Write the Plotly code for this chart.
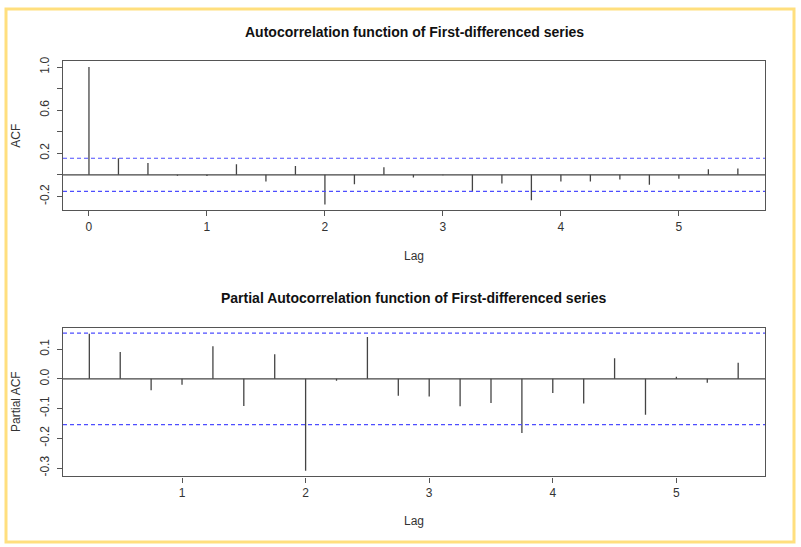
import plotly.graph_objects as go

# ---- data ----
acf_lags = [0, 0.25, 0.5, 0.75, 1.0, 1.25, 1.5, 1.75, 2.0, 2.25, 2.5, 2.75, 3.0,
            3.25, 3.5, 3.75, 4.0, 4.25, 4.5, 4.75, 5.0, 5.25, 5.5]
acf_vals = [1.0, 0.153, 0.11, -0.008, -0.01, 0.098, -0.061, 0.083, -0.276, -0.086, 0.07,
            -0.025, -0.003, -0.16, -0.08, -0.236, -0.061, -0.061, -0.043, -0.092, -0.037,
            0.052, 0.058]
pacf_lags = [0.25, 0.5, 0.75, 1.0, 1.25, 1.5, 1.75, 2.0, 2.25, 2.5, 2.75, 3.0,
             3.25, 3.5, 3.75, 4.0, 4.25, 4.5, 4.75, 5.0, 5.25, 5.5]
pacf_vals = [0.152, 0.09, -0.038, -0.02, 0.11, -0.091, 0.083, -0.309, -0.006, 0.141,
             -0.057, -0.059, -0.092, -0.081, -0.182, -0.048, -0.083, 0.069, -0.121,
             0.007, -0.013, 0.054]
conf_bound = 0.154
acf_yticks = [-0.2, 0.0, 0.2, 0.4, 0.6, 0.8, 1.0]
acf_yticklabels = ["-0.2", "", "0.2", "", "0.6", "", "1.0"]
pacf_yticks = [-0.3, -0.2, -0.1, 0.0, 0.1]
pacf_yticklabels = ["-0.3", "-0.2", "-0.1", "0.0", "0.1"]
acf_xticks = [0, 1, 2, 3, 4, 5]
pacf_xticks = [1, 2, 3, 4, 5]
titles = ["Autocorrelation function of First-differenced series",
          "Partial Autocorrelation function of First-differenced series"]

W, H = 801, 547
FONT = "Liberation Sans, Arial, sans-serif"
BAR = "#444444"
FRAME = "#555555"
BLUE = "#4D4DFF"


def stems(lags, vals):
    xs, ys = [], []
    for l, v in zip(lags, vals):
        xs += [l, l, None]
        ys += [0, v, None]
    return xs, ys


fig = go.Figure()

panels = [
    dict(lags=acf_lags, vals=acf_vals, xr=[-0.22, 5.73], yr=[-0.327, 1.052],
         yt=acf_yticks, ytl=acf_yticklabels, xt=acf_xticks, ylab="ACF",
         ydom=[1 - 207 / H, 1 - 57 / H], title_y=27, lag_y=253),
    dict(lags=pacf_lags, vals=pacf_vals, xr=[0.037, 5.717], yr=[-0.328, 0.172],
         yt=pacf_yticks, ytl=pacf_yticklabels, xt=pacf_xticks, ylab="Partial ACF",
         ydom=[1 - 475.7 / H, 1 - 325.7 / H], title_y=296, lag_y=521),
]

xdom = [63 / W, 765 / W]
annotations = []
shapes = []
for i, p in enumerate(panels):
    sfx = "" if i == 0 else str(i + 1)
    xa, ya = "x" + sfx, "y" + sfx
    xs, ys = stems(p["lags"], p["vals"])
    fig.add_trace(go.Scatter(x=xs, y=ys, mode="lines", xaxis=xa, yaxis=ya,
                             line=dict(color=BAR, width=1.3), showlegend=False,
                             hoverinfo="skip"))
    # zero line
    fig.add_trace(go.Scatter(x=p["xr"], y=[0, 0], mode="lines", xaxis=xa, yaxis=ya,
                             line=dict(color=BAR, width=1.3), showlegend=False,
                             hoverinfo="skip"))
    # confidence bounds
    for b in (conf_bound, -conf_bound):
        fig.add_trace(go.Scatter(x=p["xr"], y=[b, b], mode="lines", xaxis=xa, yaxis=ya,
                                 line=dict(color=BLUE, width=1.2, dash="4px,3px"),
                                 showlegend=False, hoverinfo="skip"))
    axis_common = dict(showgrid=False, zeroline=False, showline=True, linecolor=FRAME,
                       linewidth=1.3, mirror=True, ticks="outside", ticklen=5,
                       tickcolor=FRAME, tickwidth=1.2,
                       tickfont=dict(family=FONT, size=12, color="#333333"))
    fig.update_layout(**{
        "xaxis" + sfx: dict(domain=xdom, range=p["xr"], tickvals=p["xt"],
                            ticktext=[str(t) for t in p["xt"]], anchor=ya,
                            **axis_common),
        "yaxis" + sfx: dict(domain=p["ydom"], range=p["yr"], tickvals=p["yt"],
                            ticktext=p["ytl"], tickangle=-90, anchor=xa,
                            ticklabelstandoff=3, **axis_common),
    })
    annotations.append(dict(text="<b>" + titles[i] + "</b>", xref="paper", yref="paper",
                            x=(xdom[0] + xdom[1]) / 2, y=1 - p["title_y"] / H,
                            showarrow=False, xanchor="center", yanchor="middle",
                            font=dict(family=FONT, size=14, color="#111111")))
    annotations.append(dict(text="Lag", xref="paper", yref="paper",
                            x=(xdom[0] + xdom[1]) / 2, y=1 - p["lag_y"] / H,
                            showarrow=False, xanchor="center", yanchor="middle",
                            font=dict(family=FONT, size=12, color="#333333")))
    annotations.append(dict(text=p["ylab"], xref="paper", yref="paper",
                            x=16 / W, y=(p["ydom"][0] + p["ydom"][1]) / 2,
                            textangle=-90, showarrow=False, xanchor="center",
                            yanchor="middle",
                            font=dict(family=FONT, size=12, color="#333333")))

shapes.append(dict(type="rect", xref="paper", yref="paper",
                   x0=6 / W, x1=794 / W, y0=1 - 542 / H, y1=1 - 4 / H,
                   line=dict(color="#FFDF7E", width=3), layer="below"))

fig.update_layout(width=W, height=H, autosize=False,
                  margin=dict(l=0, r=0, t=0, b=0, pad=0),
                  paper_bgcolor="white", plot_bgcolor="white",
                  annotations=annotations, shapes=shapes,
                  font=dict(family=FONT))

fig.write_html("out.html", config={"displayModeBar": False},
               post_script="document.body.style.margin='0';")
